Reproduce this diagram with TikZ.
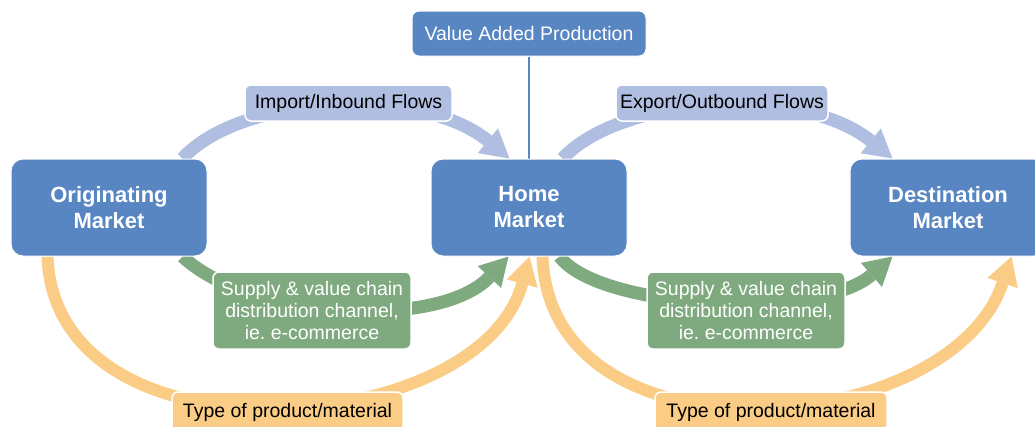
\documentclass[tikz,border=0pt]{standalone}
\usepackage{fontspec}
\setmainfont{Liberation Sans}
\usetikzlibrary{arrows.meta,backgrounds}
\definecolor{boxblue}{RGB}{87,134,194}
\definecolor{flowblue}{RGB}{175,190,225}
\definecolor{chaingreen}{RGB}{127,170,127}
\definecolor{prodorange}{RGB}{250,204,133}
\frenchspacing
\begin{document}
\begin{tikzpicture}[x=1pt,y=-1pt,
  market/.style={fill=boxblue, draw=white, line width=1pt, rounded corners=12pt,
    minimum width=196pt, minimum height=97pt, inner sep=0pt, text=white,
    align=center, font=\fontsize{22}{26}\selectfont\bfseries},
  vapbox/.style={fill=boxblue, draw=white, line width=1pt, rounded corners=7pt,
    minimum width=234pt, minimum height=45pt, inner sep=0pt, text=white,
    font=\fontsize{19.5}{23}\selectfont},
  flowlabel/.style={fill=flowblue, draw=white, line width=1.5pt, rounded corners=6pt,
    minimum height=36pt, inner sep=0pt, text=black,
    font=\fontsize{19.5}{23}\selectfont},
  chainlabel/.style={fill=chaingreen, draw=white, line width=1.5pt, rounded corners=6pt,
    minimum width=198pt, minimum height=77pt, inner sep=0pt, text=white, align=center,
    font=\fontsize{19.5}{22}\selectfont},
  prodlabel/.style={fill=prodorange, draw=white, line width=1.5pt, rounded corners=6pt,
    minimum height=40pt, inner sep=0pt, text=black,
    font=\fontsize{19.5}{23}\selectfont},
  flowarrow/.style={draw=flowblue, line width=13pt,
    -{Triangle[length=28pt,width=32pt,line width=0pt]}},
  chainarrow/.style={draw=chaingreen, line width=13pt,
    -{Triangle[length=28pt,width=32pt,line width=0pt]}},
  prodarrow/.style={draw=prodorange, line width=12pt,
    -{Triangle[length=28pt,width=32pt,line width=0pt]}},
  vapline/.style={draw=boxblue, line width=2pt}
]
\useasboundingbox (0,0) rectangle (1035,426);

% main boxes
\node[market] (orig) at (109,207.5) {Originating\\Market};
\node[market] (home) at (529,207.5) {Home\\Market};
\node[market] (dest) at (948,207.5) {Destination\\Market};
\node[vapbox] (vap) at (529,33.5) {Value Added Production};

% labels
\node[flowlabel, minimum width=207pt] (imp) at (348.5,103) {Import/Inbound Flows};
\node[flowlabel, minimum width=212pt] (exp) at (722,103) {Export/Outbound Flows};
\node[chainlabel] (ch1) at (312,310.5) {Supply \& value chain\\distribution channel,\\ie. e-commerce};
\node[chainlabel] (ch2) at (746,310.5) {Supply \& value chain\\distribution channel,\\ie. e-commerce};
\node[prodlabel, minimum width=231pt] (pr1) at (287.5,412) {Type of product/material};
\node[prodlabel, minimum width=232pt] (pr2) at (771,412) {Type of product/material};

\begin{scope}[on background layer]
  \draw[vapline] (vap.south) -- (home.north);
  % import / export flows
  \draw[flowarrow] ([xshift=-25pt]orig.north east) .. controls (240,95) and (420,85) .. ([xshift=79pt]home.north west);
  \draw[flowarrow] ([xshift=132pt]home.north west) .. controls (622,95) and (802,85) .. ([xshift=43pt]dest.north west);
  % supply chain
  \draw[chainarrow] ([xshift=-25pt]orig.south east) .. controls (250,320) and (440,330) .. ([xshift=78pt]home.south west);
  \draw[chainarrow] ([xshift=129pt]home.south west) .. controls (600,310) and (820,320) .. ([xshift=43pt]dest.south west);
  % product
  \draw[prodarrow] ([xshift=37pt]orig.south west) .. controls (55,470) and (480,440) .. ([xshift=99pt]home.south west);
  \draw[prodarrow] ([xshift=112pt]home.south west) .. controls (550,470) and (950,440) .. ([xshift=162pt]dest.south west);
\end{scope}
\end{tikzpicture}
\end{document}
